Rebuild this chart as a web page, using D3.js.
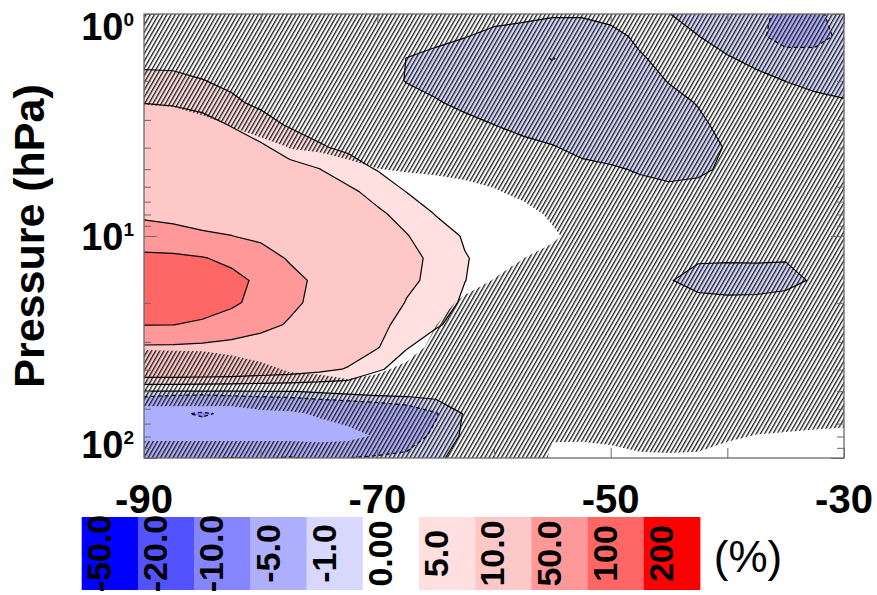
<!DOCTYPE html>
<html>
<head>
<meta charset="utf-8">
<script src="https://cdn.jsdelivr.net/npm/d3@7"></script>
<style>
  body { margin: 0; background: #fff; }
  text { font-family: "Liberation Sans", Arial, Helvetica, sans-serif; fill: #000; }
</style>
</head>
<body>
<svg id="chart" width="877" height="595"></svg>
<script>
// Grid coordinates of the zonal-mean field
const latitudes = [-90, -87.5, -85, -82.5, -80, -77.5, -75, -72.5, -70, -67.5, -65, -62.5, -60,
                   -57.5, -55, -52.5, -50, -47.5, -45, -42.5, -40, -37.5, -35, -32.5, -30];
const pressures = [1, 1.259, 1.585, 1.995, 2.512, 3.162, 3.981, 5.012, 6.310, 7.943, 10,
                   12.59, 15.85, 19.95, 25.12, 31.62, 39.81, 50.12, 63.10, 79.43, 100];

// Relative change (%) on the grid: one row per pressure level, one column per latitude
const anomaly = [
  [2.0, 2.0, 1.9, 1.8, 1.6, 1.5, 1.4, 1.2, 1.0, 0.8, 0.6, 0.5, 0.4, 0.3, 0.1, 0.1, 0.3, 0.5, 0.02, -0.4, -0.7, -0.9, -1.1, -1.1, -0.8],
  [3.0, 3.0, 2.8, 2.5, 2.2, 1.9, 1.6, 1.3, 1.0, 0.7, 0.4, 0.05, -0.3, -0.5, -0.5, -0.5, -0.3, 0.2, 0.3, 0.02, -0.5, -0.9, -1.2, -1.15, -0.9],
  [4.0, 4.0, 3.6, 3.2, 2.8, 2.4, 2.0, 1.6, 0.9, -0.02, -0.4, -0.6, -0.7, -0.8, -1.02, -0.8, -0.7, -0.1, 0.3, 0.2, 0.1, -0.3, -0.8, -0.85, -0.6],
  [6.0, 5.8, 5.1, 4.3, 3.6, 3.0, 2.4, 1.8, 1.0, -0.1, -0.5, -0.7, -0.8, -0.8, -0.85, -0.85, -0.8, -0.4, 0.05, 0.4, 0.6, 0.3, -0.02, -0.3, -0.4],
  [9.8, 9.0, 7.2, 5.6, 4.3, 3.5, 2.8, 2.2, 1.6, 0.8, 0.15, -0.4, -0.7, -0.8, -0.85, -0.85, -0.8, -0.6, -0.3, 0.05, 0.5, 0.7, 0.5, 0.3, 0.1],
  [18, 16, 13.5, 9.5, 6.5, 4.6, 3.6, 2.9, 2.3, 1.7, 1.0, 0.5, 0.01, -0.5, -0.75, -0.8, -0.8, -0.75, -0.6, -0.2, 0.3, 0.8, 1.0, 0.9, 0.7],
  [26, 24, 20, 15, 11, 7.5, 5.4, 4.2, 3.3, 2.6, 2.0, 1.4, 0.9, 0.5, 0.1, -0.4, -0.7, -0.8, -0.75, -0.5, 0.1, 0.7, 1.0, 1.0, 0.9],
  [34, 31, 27, 21, 16, 12, 10.2, 7.0, 4.8, 3.8, 3.0, 2.4, 1.8, 1.3, 0.8, 0.4, 0.2, -0.15, -0.5, -0.3, 0.3, 0.8, 1.1, 1.2, 1.1],
  [42, 39, 34, 28, 22, 17, 13.5, 11.2, 8.0, 4.9, 3.8, 3.0, 2.4, 1.9, 1.5, 1.1, 0.8, 0.5, 0.4, 0.5, 0.8, 1.1, 1.3, 1.4, 1.4],
  [47, 45, 41, 35, 29, 23, 18, 14, 11, 8.0, 4.8, 3.9, 3.0, 2.4, 1.9, 1.5, 1.2, 1.0, 0.9, 0.9, 1.0, 1.2, 1.4, 1.5, 1.5],
  [58, 56, 53, 50.5, 42, 33, 25, 19, 14, 10.3, 7.0, 4.6, 3.6, 2.8, 2.2, 1.8, 1.5, 1.3, 1.1, 1.0, 1.0, 1.1, 1.3, 1.5, 1.6],
  [116, 112, 103, 88, 68, 46, 32, 23, 16, 12, 8.5, 5.2, 3.9, 3.0, 2.4, 2.0, 1.6, 1.2, 0.6, 0.1, 0.1, 0.1, 0.05, 0.4, 1.2],
  [152, 148, 135, 115, 90, 62, 42, 28, 19, 12.0, 7.6, 5.05, 3.8, 2.9, 2.2, 1.7, 1.2, 0.6, 0.05, -0.3, -0.4, -0.35, -0.25, 0.1, 0.9],
  [140, 136, 124, 108, 85, 58, 40, 26, 17, 9.5, 6.5, 4.5, 3.5, 2.8, 2.2, 1.7, 1.2, 0.8, 0.4, 0.25, 0.2, 0.2, 0.3, 0.6, 1.0],
  [101, 100.3, 92, 78, 62, 46, 33, 20, 12, 7.5, 5.3, 4.0, 3.2, 2.6, 2.1, 1.7, 1.3, 1.0, 0.8, 0.7, 0.7, 0.7, 0.8, 1.0, 1.2],
  [45, 44, 41, 36, 30, 24, 19, 13, 10.4, 5.2, 3.6, 2.8, 2.3, 2.0, 1.7, 1.5, 1.3, 1.1, 1.0, 0.9, 0.9, 0.9, 1.0, 1.1, 1.2],
  [16, 16, 15.5, 15, 14, 13, 11.5, 9.6, 5.5, 3.4, 2.6, 2.1, 1.8, 1.6, 1.5, 1.4, 1.3, 1.2, 1.1, 1.0, 1.0, 1.0, 1.0, 1.1, 1.2],
  [-0.2, -0.2, -0.2, -0.15, -0.1, -0.05, 0.2, 0.4, 0.6, 0.6, 0.6, 0.7, 0.9, 1.0, 1.1, 1.2, 1.2, 1.2, 1.2, 1.2, 1.2, 1.2, 1.2, 1.3, 1.4],
  [-3.5, -4.6, -5.3, -4.5, -3.8, -3.5, -3.2, -2.9, -2.6, -2.0, -1.1, 0.1, 0.6, 0.9, 1.1, 1.2, 1.3, 1.3, 1.3, 1.3, 1.3, 1.3, 1.3, 1.4, 1.5],
  [-3.0, -3.2, -3.3, -3.2, -3.0, -2.8, -2.5, -2.2, -1.8, -1.5, -0.8, 0.2, 0.8, 1.0, 1.2, 1.3, 1.3, 1.3, 1.3, 1.3, 1.3, 1.3, 1.3, 1.3, 1.4],
  [-1.3, -1.2, -1.1, -0.95, -1.1, -0.9, -1.2, -1.0, -0.9, -0.8, -0.2, 0.4, 0.9, 1.0, 1.1, 1.2, 1.2, 1.1, 1.0, 1.0, 1.1, 1.2, 1.3, 1.3, 1.3]
];

// Confidence score (0-9) of the change; cells scoring at most 5 are hatched
const confidence = [
  [0, 0, 0, 0, 0, 0, 0, 0, 0, 0, 0, 0, 0, 0, 0, 0, 0, 0, 0, 0, 0, 0, 0, 0, 0],
  [0, 0, 0, 0, 0, 0, 0, 0, 0, 0, 0, 0, 0, 0, 0, 0, 0, 0, 0, 0, 0, 0, 0, 0, 0],
  [0, 0, 0, 0, 0, 0, 0, 0, 0, 0, 0, 0, 0, 0, 0, 0, 0, 0, 0, 0, 0, 0, 0, 0, 0],
  [0, 0, 0, 0, 0, 0, 0, 0, 0, 0, 0, 0, 0, 0, 0, 0, 0, 0, 0, 0, 0, 0, 0, 0, 0],
  [4.6, 4.1, 0, 0, 0, 0, 0, 0, 0, 0, 0, 0, 0, 0, 0, 0, 0, 0, 0, 0, 0, 0, 0, 0, 0],
  [9, 9, 9, 4.6, 0, 0, 0, 0, 0, 0, 0, 0, 0, 0, 0, 0, 0, 0, 0, 0, 0, 0, 0, 0, 0],
  [9, 9, 9, 9, 9, 4.7, 3.8, 0, 0, 0, 0, 0, 0, 0, 0, 0, 0, 0, 0, 0, 0, 0, 0, 0, 0],
  [9, 9, 9, 9, 9, 9, 9, 9, 5.2, 4.4, 3.6, 1.3, 0, 0, 0, 0, 0, 0, 0, 0, 0, 0, 0, 0, 0],
  [9, 9, 9, 9, 9, 9, 9, 9, 9, 9, 9, 9, 6, 2, 0, 0, 0, 0, 0, 0, 0, 0, 0, 0, 0],
  [9, 9, 9, 9, 9, 9, 9, 9, 9, 9, 9, 9, 9, 9, 3, 0, 0, 0, 0, 0, 0, 0, 0, 0, 0],
  [9, 9, 9, 9, 9, 9, 9, 9, 9, 9, 9, 9, 9, 9, 7, 0, 0, 0, 0, 0, 0, 0, 0, 0, 0],
  [9, 9, 9, 9, 9, 9, 9, 9, 9, 9, 9, 9, 9, 5.1, 1, 0, 0, 0, 0, 0, 0, 0, 0, 0, 0],
  [9, 9, 9, 9, 9, 9, 9, 9, 9, 9, 9, 9, 4.6, 0, 0, 0, 0, 0, 0, 0, 0, 0, 0, 0, 0],
  [9, 9, 9, 9, 9, 9, 9, 9, 9, 9, 9, 2.9, 0, 0, 0, 0, 0, 0, 0, 0, 0, 0, 0, 0, 0],
  [9, 9, 9, 9, 9, 9, 9, 9, 9, 9, 5.2, 0, 0, 0, 0, 0, 0, 0, 0, 0, 0, 0, 0, 0, 0],
  [5.8, 6, 6.2, 7.9, 9, 9, 9, 9, 9, 9, 2.6, 0, 0, 0, 0, 0, 0, 0, 0, 0, 0, 0, 0, 0, 0],
  [0, 0, 0, 0, 3.1, 5.8, 6.6, 9, 6.5, 3.0, 0, 0, 0, 0, 0, 0, 0, 0, 0, 0, 0, 0, 0, 0, 0],
  [0, 0, 0, 0, 0, 0, 0, 0, 0, 0, 0, 0, 0, 0, 0, 0, 0, 0, 0, 0, 0, 0, 0, 0, 0],
  [7.5, 7.5, 7.5, 7.5, 6, 5.6, 4.5, 3, 0, 0, 0, 0, 0, 0, 0, 0, 0, 0, 0, 0, 0, 0, 0, 0, 0],
  [6.5, 6.5, 6.5, 6.5, 6.5, 6.5, 7, 6.5, 4.5, 0, 0, 0, 0, 0, 4.6, 3.5, 2.2, 0, 0, 0, 3.5, 5.3, 6, 7, 8],
  [0, 0, 0, 0, 0, 0, 0, 0, 0, 0, 0, 0, 0, 0, 6, 9, 9, 7, 6.5, 7, 9, 9, 9, 9, 9]
];

// Filled contour levels, their colours and colour-bar labels
const levels = [-50, -20, -10, -5, -1, 0, 5, 10, 50, 100, 200];
const levelColors = ["#0000ff", "#5252ff", "#8585ff", "#afafff", "#d8d8ff", "#ffffff",
                     "#ffdfdf", "#ffc8c8", "#ff9898", "#ff6666", "#ff0000"];
const levelLabels = ["-50.0", "-20.0", "-10.0", "-5.0", "-1.0", "0.00", "5.0", "10.0", "50.0", "100", "200"];
// Contour lines that are outlined (negative ones dashed)
const lineLevels = [-5, -1, 0, 5, 10, 50, 100];
const latTickLabels = [-90, -70, -50, -30];
const latTicks = [-90, -80, -70, -60, -50, -40, -30];
const pressureLabels = [1, 10, 100];

const svg = d3.select("#chart");
const plot = { left: 144, right: 844, top: 14, bottom: 458 };

const x = d3.scaleLinear().domain([-90, -30]).range([plot.left, plot.right]);
const y = d3.scaleLog().domain([1, 100]).range([plot.top, plot.bottom]);

// d3.contours places sample k at grid coordinate k + 0.5
const nx = latitudes.length, ny = pressures.length;
const colToLat = d3.scaleLinear().domain(latitudes.map((_, k) => k + 0.5)).range(latitudes);
const rowToLogP = d3.scaleLinear().domain(pressures.map((_, k) => k + 0.5)).range(pressures.map(Math.log10));
const gridPath = d3.geoPath(d3.geoTransform({
  point(gx, gy) { this.stream.point(x(colToLat(gx)), y(Math.pow(10, rowToLogP(gy)))); }
}));

const values = anomaly.flat();
const hatchValues = confidence.flat().map(v => -v);
const contours = d3.contours().size([nx, ny]).smooth(true);

const defs = svg.append("defs");
defs.append("clipPath").attr("id", "plot-clip")
  .append("rect")
  .attr("x", plot.left).attr("y", plot.top)
  .attr("width", plot.right - plot.left).attr("height", plot.bottom - plot.top);

const hatch = defs.append("pattern")
  .attr("id", "hatch")
  .attr("patternUnits", "userSpaceOnUse")
  .attr("width", 3.6).attr("height", 10)
  .attr("patternTransform", "rotate(30)");
hatch.append("rect").attr("x", 0).attr("y", 0).attr("width", 1.3).attr("height", 10).attr("fill", "#1a1a1a");

const field = svg.append("g").attr("clip-path", "url(#plot-clip)");

// filled bands, painted from the lowest level upward
field.append("g")
  .selectAll("path")
  .data(levels.map((lv, k) => ({ geom: contours.contour(values, lv), color: levelColors[k] })))
  .join("path")
  .attr("d", d => gridPath(d.geom))
  .attr("fill", d => d.color)
  .attr("stroke", d => d.color)
  .attr("stroke-width", 0.3);

// hatching over changes that are not significant
field.append("path")
  .attr("d", gridPath(contours.contour(hatchValues, -5)))
  .attr("fill", "url(#hatch)");

// contour lines
field.append("g")
  .selectAll("path")
  .data(lineLevels.map(lv => ({ lv, geom: contours.contour(values, lv) })))
  .join("path")
  .attr("d", d => gridPath(d.geom))
  .attr("fill", "none")
  .attr("stroke", "#000")
  .attr("stroke-width", 1.2)
  .attr("stroke-linejoin", "round")
  .attr("stroke-dasharray", d => d.lv < 0 ? "4,3" : null);

// frame and ticks
const axisColor = "#6a6a6a";
const isMajor = p => Math.abs(Math.log10(p) - Math.round(Math.log10(p))) < 1e-6;

const leftAxis = svg.append("g").attr("transform", `translate(${plot.left},0)`)
  .call(d3.axisRight(y).ticks(10).tickFormat("").tickSizeOuter(0));
const rightAxis = svg.append("g").attr("transform", `translate(${plot.right},0)`)
  .call(d3.axisLeft(y).ticks(10).tickFormat("").tickSizeOuter(0));
leftAxis.selectAll(".tick line").attr("x2", d => isMajor(d) ? 13 : 7);
rightAxis.selectAll(".tick line").attr("x2", d => isMajor(d) ? -13 : -7);

const bottomAxis = svg.append("g").attr("transform", `translate(0,${plot.bottom})`)
  .call(d3.axisTop(x).tickValues(latTicks).tickFormat("").tickSize(10).tickSizeOuter(0));
const topAxis = svg.append("g").attr("transform", `translate(0,${plot.top})`)
  .call(d3.axisBottom(x).tickValues(latTicks).tickFormat("").tickSize(10).tickSizeOuter(0));

[leftAxis, rightAxis, bottomAxis, topAxis].forEach(g => {
  g.select(".domain").remove();
  g.selectAll(".tick line").attr("stroke", axisColor).attr("stroke-width", 1);
  g.selectAll(".tick text").remove();
});

svg.append("rect")
  .attr("x", plot.left).attr("y", plot.top)
  .attr("width", plot.right - plot.left).attr("height", plot.bottom - plot.top)
  .attr("fill", "none").attr("stroke", axisColor).attr("stroke-width", 1.3);

// pressure labels as powers of ten
const yLabelSize = 38;
const yLabels = svg.append("g");
pressureLabels.forEach(p => {
  const center = Math.min(Math.max(y(p), plot.top + 12), plot.bottom - 14);
  const t = yLabels.append("text")
    .attr("x", 134)
    .attr("y", center + 0.358 * yLabelSize)
    .attr("text-anchor", "end")
    .attr("font-size", yLabelSize)
    .attr("font-weight", "bold");
  t.append("tspan").text("10");
  t.append("tspan").attr("font-size", 19).attr("dy", -13.6).text(String(Math.round(Math.log10(p))));
});

svg.append("text")
  .attr("transform", `translate(44,236) rotate(-90)`)
  .attr("text-anchor", "middle")
  .attr("font-size", 43)
  .attr("font-weight", "bold")
  .text("Pressure (hPa)");

// latitude labels
svg.append("g").selectAll("text")
  .data(latTickLabels)
  .join("text")
  .attr("x", d => x(d))
  .attr("y", 513)
  .attr("text-anchor", "middle")
  .attr("font-size", 40)
  .attr("font-weight", "bold")
  .text(d => d);

// colour bar
const bar = d3.scaleBand().domain(levelLabels).range([81.7, 700]).paddingInner(0);
const barTop = 517, barBottom = 590;
const cbar = svg.append("g");
cbar.selectAll("rect")
  .data(levelLabels)
  .join("rect")
  .attr("x", d => bar(d))
  .attr("y", barTop)
  .attr("width", bar.bandwidth() + 0.4)
  .attr("height", barBottom - barTop)
  .attr("fill", (d, k) => levelColors[k]);
cbar.selectAll("text")
  .data(levelLabels)
  .join("text")
  .attr("transform", d => `translate(${bar(d) + 17},${(barTop + barBottom) / 2}) rotate(-90)`)
  .attr("dy", "0.36em")
  .attr("text-anchor", "middle")
  .attr("font-size", 34)
  .attr("font-weight", "bold")
  .text(d => d);

svg.append("text")
  .attr("x", 748)
  .attr("y", 572)
  .attr("text-anchor", "middle")
  .attr("font-size", 44)
  .text("(%)");
</script>
</body>
</html>
